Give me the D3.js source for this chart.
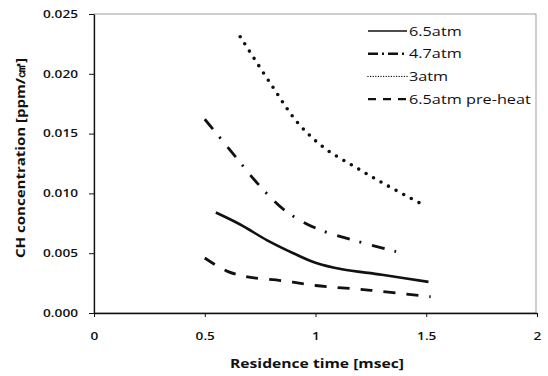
<!DOCTYPE html>
<html>
<head>
<script src="https://d3js.org/d3.v7.min.js"></script>
<style>
  body { margin: 0; background: #fff; }
  text { font-family: "Open Sans", "Liberation Sans", sans-serif; fill: #111; }
</style>
</head>
<body>
<script>
  // values
  var xTicks = [0, 0.5, 1, 1.5, 2];
  var yTicks = [0, 0.005, 0.010, 0.015, 0.020, 0.025];

  var time65 = [0.55, 0.66, 0.78, 0.9, 1.0, 1.12, 1.3, 1.51];
  var ch65 = [0.0084, 0.0074, 0.0061, 0.0050, 0.0042, 0.00365, 0.0032, 0.0026];

  var time47 = [0.5, 0.62, 0.74, 0.86, 1.0, 1.17, 1.37];
  var ch47 = [0.0162, 0.0135, 0.0108, 0.0086, 0.0071, 0.0061, 0.0051];

  var time3 = [0.66, 0.8, 0.92, 1.04, 1.18, 1.32, 1.47];
  var ch3 = [0.0231, 0.0191, 0.0159, 0.0138, 0.0122, 0.0107, 0.0092];

  var timePre = [0.5, 0.6, 0.7, 0.85, 1.0, 1.25, 1.52];
  var chPre = [0.0046, 0.0035, 0.0030, 0.0027, 0.0023, 0.0019, 0.00136];

  var seriesNames = ['6.5atm', '4.7atm', '3atm', '6.5atm pre-heat'];

  var W = 548, H = 376;
  var m = {left: 94, right: 11, top: 14, bottom: 63};

  var svg = d3.select('body').append('svg').attr('width', W).attr('height', H);

  var x = d3.scaleLinear().domain([0, 2]).range([m.left, W - m.right]);
  var y = d3.scaleLinear().domain([0, 0.025]).range([H - m.bottom, m.top]);

  // the scan is wider than tall, so text is stretched sideways to fit
  function stretch(sel, w) {
    sel.each(function() {
      var len = w || this.getComputedTextLength() * 1.3;
      d3.select(this).attr('textLength', len).attr('lengthAdjust', 'spacingAndGlyphs');
    });
  }

  svg.append('rect')
    .attr('x', x(0)).attr('y', y(0.025))
    .attr('width', x(2) - x(0) - 1).attr('height', y(0) - y(0.025))
    .attr('fill', 'none').attr('stroke', '#888').attr('stroke-width', 0.8);

  var xAxis = svg.append('g')
    .attr('transform', 'translate(0,' + y(0) + ')')
    .call(d3.axisBottom(x).tickValues(xTicks).tickFormat(d3.format('')).tickSizeInner(4).tickSizeOuter(0).tickPadding(16));
  var yAxis = svg.append('g')
    .attr('transform', 'translate(' + x(0) + ',0)')
    .call(d3.axisLeft(y).tickValues(yTicks).tickFormat(d3.format('.3f')).tickSizeInner(5).tickSizeOuter(0).tickPadding(11));

  [xAxis, yAxis].forEach(function(a) {
    a.select('.domain').attr('stroke', '#111').attr('stroke-width', 1.3);
    a.selectAll('.tick line').attr('stroke', '#111').attr('stroke-width', 1);
    a.selectAll('text').attr('font-size', 10.5).attr('font-weight', 600)
      .attr('font-family', '"Open Sans", sans-serif').attr('fill', '#111');
    stretch(a.selectAll('text'));
  });

  var xt = svg.append('text')
    .attr('x', 317).attr('y', 368)
    .attr('text-anchor', 'middle').attr('font-size', 12).attr('font-weight', 'bold')
    .text('Residence time [msec]');
  stretch(xt, 174);

  var yt = svg.append('text')
    .attr('transform', 'translate(25,158) rotate(-90)')
    .attr('text-anchor', 'middle').attr('font-size', 13).attr('font-weight', 'bold')
    .text('CH concentration [ppm/㎠]');
  stretch(yt, 200);

  var styles = [
    {dash: null, width: 2.6, cap: 'butt'},
    {dash: '13,10,2,11', width: 2.8, cap: 'butt'},
    {dash: '0,8.6', width: 3.6, cap: 'round'},
    {dash: '12,11', width: 2.8, cap: 'butt'}
  ];
  var series = [
    d3.zip(time65, ch65), d3.zip(time47, ch47), d3.zip(time3, ch3), d3.zip(timePre, chPre)
  ];

  var line = d3.line()
    .x(function(d) { return x(d[0]); })
    .y(function(d) { return y(d[1]); })
    .curve(d3.curveCatmullRom);

  series.forEach(function(s, i) {
    svg.append('path')
      .attr('d', line(s))
      .attr('fill', 'none').attr('stroke', '#111')
      .attr('stroke-width', styles[i].width)
      .attr('stroke-linecap', styles[i].cap)
      .attr('stroke-dasharray', styles[i].dash);
  });

  // legend
  var legDash = [null, '10,4,2,4', '0,2.6', '8,7'];
  var legWidth = [1.6, 2.4, 1.4, 2.4];
  var lg = svg.append('g').attr('transform', 'translate(368,31)');
  seriesNames.forEach(function(n, i) {
    var row = lg.append('g').attr('transform', 'translate(0,' + (i * 22.7) + ')');
    row.append('line')
      .attr('x1', 0).attr('x2', 39).attr('y1', 0).attr('y2', 0)
      .attr('stroke', '#111')
      .attr('stroke-width', legWidth[i])
      .attr('stroke-dasharray', legDash[i])
      .attr('stroke-linecap', i == 2 ? 'round' : 'butt');
    var t = row.append('text')
      .attr('x', 41).attr('y', 4.5).attr('font-size', 12.5)
      .text(n);
    stretch(t);
  });
</script>
</body>
</html>
